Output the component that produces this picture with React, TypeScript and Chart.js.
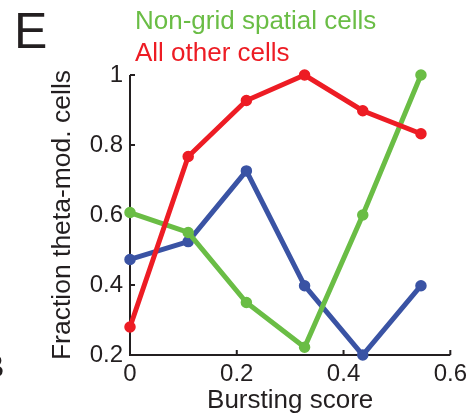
import React, { useEffect, useRef } from "react";
import { Chart, registerables } from "chart.js";

Chart.register(...registerables);

const xValues = [0, 0.109, 0.218, 0.327, 0.436, 0.545];
const redValues = [0.28, 0.767, 0.927, 1.0, 0.898, 0.832];
const greenValues = [0.607, 0.55, 0.35, 0.222, 0.6, 1.0];
const blueValues = [0.473, 0.524, 0.726, 0.398, 0.2, 0.398];
const xTicks = [0, 0.2, 0.4, 0.6];
const yTicks = [0.2, 0.4, 0.6, 0.8, 1];
const legendGreen = "Non-grid spatial cells";
const legendRed = "All other cells";
const panelLabel = "E";
const xTitle = "Bursting score";
const yTitle = "Fraction theta-mod. cells";

const RED = "#ed1c24";
const GREEN = "#6abd45";
const BLUE = "#3a53a4";
const INK = "#231f20";
const FONT = "'Liberation Sans', Arial, sans-serif";

const fmt = (v: number) => (Math.abs(v - Math.round(v)) < 1e-9 ? String(Math.round(v)) : v.toFixed(1));

export default function App() {
  const ref = useRef<HTMLCanvasElement | null>(null);

  useEffect(() => {
    if (!ref.current) return;
    const mk = (vals: number[]) => xValues.map((x, i) => ({ x, y: vals[i] }));
    const ds = (label: string, vals: number[], color: string) => ({
      label,
      data: mk(vals),
      borderColor: color,
      backgroundColor: color,
      pointBackgroundColor: color,
      pointBorderColor: color,
      borderWidth: 5,
      pointRadius: 5,
      pointBorderWidth: 1.5,
      tension: 0,
      clip: false as const,
    });

    const axesPlugin = {
      id: "axesPlugin",
      beforeDatasetsDraw(chart: any) {
        const ctx = chart.ctx;
        const xs = chart.scales.x;
        const ys = chart.scales.y;
        const x0 = xs.getPixelForValue(0);
        const x1 = xs.getPixelForValue(0.6);
        const y0 = ys.getPixelForValue(0.2);
        const y1 = ys.getPixelForValue(1);
        ctx.save();
        ctx.strokeStyle = INK;
        ctx.lineWidth = 2;
        ctx.beginPath();
        ctx.moveTo(x0, y1);
        ctx.lineTo(x0, y0);
        ctx.lineTo(x1, y0);
        ctx.stroke();
        ctx.beginPath();
        yTicks.forEach((v) => {
          const p = ys.getPixelForValue(v);
          ctx.moveTo(x0, p);
          ctx.lineTo(x0 + 5, p);
        });
        xTicks.forEach((v) => {
          const p = xs.getPixelForValue(v);
          ctx.moveTo(p, y0);
          ctx.lineTo(p, y0 - 5);
        });
        ctx.stroke();
        ctx.restore();
      },
      afterDraw(chart: any) {
        const ctx = chart.ctx;
        ctx.save();
        ctx.textBaseline = "alphabetic";
        ctx.textAlign = "left";
        ctx.fillStyle = INK;
        ctx.font = `50px ${FONT}`;
        ctx.fillText(panelLabel, 14, 48);
        ctx.font = `32px ${FONT}`;
        ctx.fillText("B", -17, 377);
        ctx.font = `26px ${FONT}`;
        ctx.fillStyle = GREEN;
        ctx.fillText(legendGreen, 135, 29);
        ctx.fillStyle = RED;
        ctx.fillText(legendRed, 135, 61);
        ctx.restore();
      },
    };

    const chart = new Chart(ref.current, {
      type: "line",
      data: {
        datasets: [ds(legendRed, redValues, RED), ds(legendGreen, greenValues, GREEN), ds("Grid cells", blueValues, BLUE)],
      },
      options: {
        animation: false,
        responsive: false,
        layout: { padding: { left: 0, right: 19, top: 75, bottom: 0 } },
        plugins: { legend: { display: false }, tooltip: { enabled: false } },
        scales: {
          x: {
            type: "linear",
            min: 0,
            max: 0.6,
            afterBuildTicks: (s: any) => {
              s.ticks = xTicks.map((v) => ({ value: v }));
            },
            afterFit: (s: any) => {
              s.height = 64;
            },
            grid: { display: false, drawTicks: false },
            border: { display: false },
            ticks: {
              color: INK,
              padding: 5,
              font: { family: FONT, size: 24 },
              callback: (v: any) => fmt(Number(v)),
              maxRotation: 0,
              autoSkip: false,
            },
            title: {
              display: true,
              text: xTitle,
              color: INK,
              font: { family: FONT, size: 26 },
              padding: { top: 0, bottom: 3 },
            },
          },
          y: {
            type: "linear",
            min: 0.2,
            max: 1,
            afterBuildTicks: (s: any) => {
              s.ticks = yTicks.map((v) => ({ value: v }));
            },
            afterFit: (s: any) => {
              s.width = 130;
            },
            grid: { display: false, drawTicks: false },
            border: { display: false },
            ticks: {
              color: INK,
              padding: 7,
              font: { family: FONT, size: 24 },
              callback: (v: any) => fmt(Number(v)),
              autoSkip: false,
            },
            title: {
              display: true,
              text: yTitle,
              color: INK,
              font: { family: FONT, size: 26.5 },
              padding: { top: 47, bottom: 0 },
            },
          },
        },
      },
      plugins: [axesPlugin],
    });
    return () => chart.destroy();
  }, []);

  return (
    <div style={{ position: "absolute", left: 0, top: 0, width: 472, height: 419, background: "#fff" }}>
      <canvas ref={ref} width={472} height={419} />
    </div>
  );
}
